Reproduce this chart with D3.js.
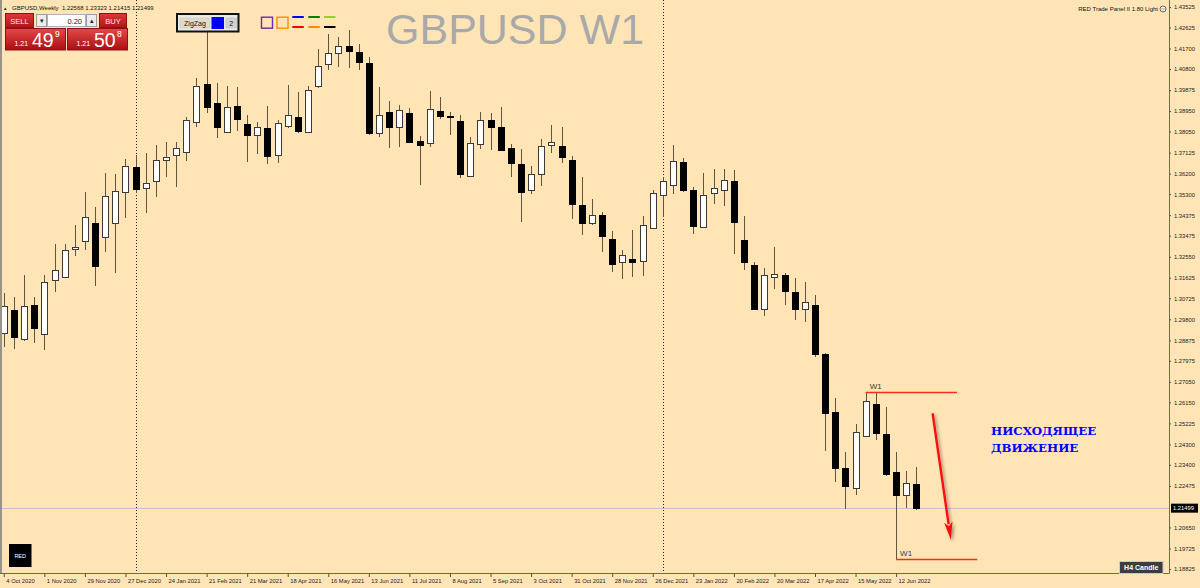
<!DOCTYPE html>
<html><head><meta charset="utf-8">
<script src="https://cdn.jsdelivr.net/npm/d3@7"></script>
<style>
html,body{margin:0;padding:0;background:#ffe4b5;}
svg{display:block;}
</style>
</head><body>
<svg id="chart" width="1200" height="588"></svg>
<script>
// ---------------- DATA ----------------
const symbolTitle = "GBPUSD W1";
const headerText = "GBPUSD,Weekly  1.22568 1.23323 1.21415 1.21499";
const firstWeek = "2020-10-04";          // first weekly bar (MT4 weeks start Sunday)
const futureWeeks = 6;                    // empty weeks to the right of the last bar

const opens  = [1.2918,1.3022,1.2892,1.3043,1.2917,1.3153,1.3167,1.3288,1.3323,1.3404,
                1.3342,1.3404,1.3541,1.3648,1.3557,1.3588,1.3678,1.3702,1.3714,1.3848,
                1.4013,1.3929,1.3802,1.3919,1.3837,1.3789,1.3822,1.3702,1.3828,1.3870,
                1.3804,1.4004,1.4101,1.4149,1.4182,1.4153,1.4105,1.3797,1.3890,1.3824,
                1.3885,1.3765,1.3753,1.3894,1.3873,1.3853,1.3611,1.3749,1.3856,1.3826,
                1.3733,1.3661,1.3548,1.3617,1.3746,1.3742,1.3680,1.3482,1.3404,1.3437,
                1.3331,1.3232,1.3246,1.3235,1.3381,1.3525,1.3572,1.3670,1.3547,1.3387,
                1.3534,1.3548,1.3586,1.3328,1.3219,1.3027,1.3164,1.3175,1.3099,1.3024,
                1.3043,1.2826,1.2571,1.2325,1.2238,1.2468,1.2608,1.2477,1.2307,1.2206,
                1.22568];
const highs  = [1.3095,1.3079,1.3173,1.3077,1.3173,1.3311,1.3311,1.3394,1.3539,1.3473,
                1.3622,1.3617,1.3683,1.3702,1.3711,1.3746,1.3760,1.3758,1.3869,1.4039,
                1.4244,1.4017,1.4005,1.4001,1.3878,1.3848,1.3919,1.3856,1.4010,1.3978,
                1.4007,1.4168,1.4234,1.4221,1.4251,1.4190,1.4131,1.4001,1.3941,1.3920,
                1.3907,1.3786,1.3985,1.3956,1.3892,1.3878,1.3780,1.3890,1.3885,1.3912,
                1.3750,1.3728,1.3655,1.3772,1.3834,1.3826,1.3698,1.3607,1.3510,1.3453,
                1.3368,1.3284,1.3371,1.3435,1.3548,1.3607,1.3747,1.3687,1.3563,1.3624,
                1.3642,1.3642,1.3636,1.3434,1.3233,1.3207,1.3296,1.3183,1.3163,1.3142,
                1.3087,1.2833,1.2633,1.2398,1.2520,1.2662,1.2655,1.2596,1.2398,1.2314,
                1.23323];
const lows   = [1.2860,1.2848,1.2886,1.2874,1.2845,1.3100,1.3161,1.3258,1.3284,1.3128,
                1.3274,1.3183,1.3426,1.3534,1.3446,1.3516,1.3607,1.3563,1.3677,1.3826,
                1.3885,1.3778,1.3797,1.3808,1.3670,1.3705,1.3662,1.3666,1.3819,1.3800,
                1.3802,1.3995,1.4076,1.4090,1.4083,1.4076,1.3790,1.3782,1.3731,1.3739,
                1.3756,1.3570,1.3736,1.3859,1.3789,1.3600,1.3605,1.3730,1.3724,1.3722,
                1.3607,1.3409,1.3531,1.3566,1.3710,1.3666,1.3419,1.3350,1.3394,1.3274,
                1.3189,1.3156,1.3167,1.3170,1.3380,1.3430,1.3530,1.3541,1.3353,1.3384,
                1.3487,1.3479,1.3267,1.3197,1.3021,1.2994,1.3114,1.3043,1.2977,1.2967,
                1.2815,1.2402,1.2266,1.2146,1.2208,1.2464,1.2449,1.2291,1.1926,1.2149,
                1.21415];
const closes = [1.3040,1.2902,1.3040,1.2940,1.3142,1.3195,1.3283,1.3296,1.3430,1.3215,
                1.3520,1.3544,1.3654,1.3551,1.3580,1.3679,1.3692,1.3733,1.3855,1.4005,
                1.3914,1.3826,1.3914,1.3859,1.3789,1.3824,1.3699,1.3841,1.3878,1.3808,
                1.3986,1.4093,1.4149,1.4182,1.4158,1.4110,1.3797,1.3876,1.3826,1.3900,
                1.3759,1.3745,1.3906,1.3872,1.3868,1.3617,1.3756,1.3856,1.3826,1.3724,
                1.3668,1.3541,1.3617,1.3742,1.3758,1.3692,1.3488,1.3404,1.3437,1.3347,
                1.3223,1.3261,1.3232,1.3396,1.3534,1.3588,1.3677,1.3548,1.3390,1.3525,
                1.3557,1.3591,1.3406,1.3232,1.3027,1.3175,1.3177,1.3106,1.3026,1.3054,
                1.2826,1.2567,1.2325,1.2248,1.2483,1.2621,1.2479,1.2300,1.2208,1.2262,
                1.21499];

const dateTicks = ["4 Oct 2020","1 Nov 2020","29 Nov 2020","27 Dec 2020","24 Jan 2021",
                   "21 Feb 2021","21 Mar 2021","18 Apr 2021","16 May 2021","13 Jun 2021",
                   "11 Jul 2021","8 Aug 2021","5 Sep 2021","3 Oct 2021","31 Oct 2021",
                   "28 Nov 2021","26 Dec 2021","23 Jan 2022","20 Feb 2022","20 Mar 2022",
                   "17 Apr 2022","15 May 2022","12 Jun 2022"];
const yearSeparators = ["3 Jan 2021","2 Jan 2022"];
const priceTicks = [1.43525,1.42625,1.41700,1.40800,1.39875,1.38950,1.38050,1.37125,
                    1.36200,1.35300,1.34375,1.33475,1.32550,1.31625,1.30725,1.29800,
                    1.28875,1.27975,1.27050,1.26150,1.25225,1.24300,1.23400,1.22475,
                    1.20650,1.19725,1.18825];
const lastPrice = 1.21499;

// W1 levels: [label, price, start week, end week]
const levels = [["W1",1.2662,"22 May 2022","24 Jul 2022"],
                ["W1",1.1926,"12 Jun 2022","7 Aug 2022"]];
// arrow (fractional week index, price)
const arrowFrom = [91.6, 1.2567];
const arrowTo   = [93.4, 1.2010];
const noteLines = ["НИСХОДЯЩЕЕ","ДВИЖЕНИЕ"];

// ---------------- SETUP ----------------
const svg = d3.select("#chart");
const W = 1200, H = 588;
const plotRight = 1169.5, plotBottom = 573.5;
const parse = d3.timeParse("%Y-%m-%d");
const fmt = d3.timeFormat("%-d %b %Y");
const nWeeks = opens.length + futureWeeks;
const weeks = d3.range(nWeeks).map(i => fmt(d3.timeWeek.offset(parse(firstWeek), i)));

const x = d3.scalePoint().domain(weeks).range([3.8, 3.8 + (nWeeks - 1) * 10.14]);
const xi = d3.scaleLinear().domain([0, nWeeks - 1]).range(x.range());
const y = d3.scaleLinear().domain([1.18825, 1.43525]).range([569, 7]);

const defs = svg.append("defs");
const gRed = defs.append("linearGradient").attr("id","gRed").attr("x1",0).attr("y1",0).attr("x2",0).attr("y2",1);
gRed.append("stop").attr("offset","0%").attr("stop-color","#e44848");
gRed.append("stop").attr("offset","100%").attr("stop-color","#a90f12");
const gRed2 = defs.append("linearGradient").attr("id","gRed2").attr("x1",0).attr("y1",0).attr("x2",0).attr("y2",1);
gRed2.append("stop").attr("offset","0%").attr("stop-color","#d83a3c");
gRed2.append("stop").attr("offset","100%").attr("stop-color","#b41418");
const sh = defs.append("filter").attr("id","shadow").attr("x","-50%").attr("y","-20%").attr("width","200%").attr("height","140%");
sh.append("feDropShadow").attr("dx",2).attr("dy",2).attr("stdDeviation",1.6)
  .attr("flood-color","#000").attr("flood-opacity",0.35);

svg.append("rect").attr("width",W).attr("height",H).attr("fill","#ffe4b5");

const FONT = "'Liberation Sans', Arial, sans-serif";

// title
svg.append("text").attr("x",386).attr("y",44).text(symbolTitle)
  .attr("font-family",FONT).attr("font-size",43).attr("fill","#a9a9a9");

// year separators (dotted)
svg.append("g").selectAll("line").data(yearSeparators).join("line")
  .attr("x1", d => Math.round(x(d)) + 0.5).attr("x2", d => Math.round(x(d)) + 0.5)
  .attr("y1", 0).attr("y2", plotBottom)
  .attr("stroke","#222").attr("stroke-width",1).attr("stroke-dasharray","1,2");

// current price line
svg.append("line").attr("x1",0).attr("x2",plotRight)
  .attr("y1", Math.round(y(lastPrice)) + 0.5).attr("y2", Math.round(y(lastPrice)) + 0.5)
  .attr("stroke","#c4c4c4").attr("stroke-width",1);

// ---------------- CANDLES ----------------
const candles = opens.map((o, i) => ({date: weeks[i], o, h: highs[i], l: lows[i], c: closes[i]}));
const gC = svg.append("g").attr("shape-rendering","crispEdges");
gC.selectAll("line.wick").data(candles).join("line").attr("class","wick")
  .attr("x1", d => Math.round(x(d.date)) + 0.5).attr("x2", d => Math.round(x(d.date)) + 0.5)
  .attr("y1", d => y(d.h)).attr("y2", d => y(d.l))
  .attr("stroke","#5e5540").attr("stroke-width",1);
gC.selectAll("rect.body").data(candles).join("rect").attr("class","body")
  .attr("x", d => Math.round(x(d.date)) - 2.5)
  .attr("width", 6)
  .attr("y", d => Math.round(y(Math.max(d.o, d.c))) + 0.5)
  .attr("height", d => Math.max(1, Math.round(y(Math.min(d.o, d.c))) - Math.round(y(Math.max(d.o, d.c)))))
  .attr("fill", d => d.c >= d.o ? "#ffffff" : "#000000")
  .attr("stroke", d => d.c >= d.o ? "#3a3a3a" : "#000000").attr("stroke-width",1);

// ---------------- W1 LEVELS ----------------
const gL = svg.append("g");
levels.forEach(([lab, p, a, b]) => {
  const yy = Math.round(y(p)) + 0.5;
  gL.append("line").attr("x1", x(a)).attr("x2", x(b)).attr("y1", yy).attr("y2", yy)
    .attr("stroke","#ff2a1a").attr("stroke-width",1.6);
  gL.append("text").attr("x", x(a) + 4).attr("y", yy - 4).text(lab)
    .attr("font-family",FONT).attr("font-size",8).attr("fill","#3a3a3a");
});

// ---------------- ARROW ----------------
{
  const x1 = xi(arrowFrom[0]), y1 = y(arrowFrom[1]);
  const x2 = xi(arrowTo[0]), y2 = y(arrowTo[1]);
  const dx = x2 - x1, dy = y2 - y1, len = Math.hypot(dx, dy);
  const ux = dx/len, uy = dy/len, px = -uy, py = ux;
  const headL = 18, headW = 4.2;
  const bx = x2 - ux*headL, by = y2 - uy*headL;
  const g = svg.append("g").attr("filter","url(#shadow)");
  g.append("line").attr("x1",x1).attr("y1",y1).attr("x2",bx + ux*2).attr("y2",by + uy*2)
    .attr("stroke","#ff1010").attr("stroke-width",2.4);
  g.append("polygon").attr("points", [[x2,y2],[bx+px*headW,by+py*headW],[bx+ux*4,by+uy*4],[bx-px*headW,by-py*headW]].map(p=>p.join(",")).join(" "))
    .attr("fill","#ff1010");
}

// note text
svg.append("g").selectAll("text").data(noteLines).join("text")
  .attr("x",991).attr("y",(d,i) => 435 + i*16.7).text(d => d)
  .attr("font-family","'DejaVu Serif', serif").attr("font-weight","bold")
  .attr("font-size",11.8).attr("fill","#0000ff");

// ---------------- FRAME & AXES ----------------
svg.append("line").attr("x1",1).attr("x2",1).attr("y1",0).attr("y2",plotBottom)
  .attr("stroke","#9a9486").attr("stroke-width",2);
svg.append("line").attr("x1",0).attr("x2",plotRight).attr("y1",plotBottom).attr("y2",plotBottom)
  .attr("stroke","#6d6a62").attr("stroke-width",1);
svg.append("line").attr("x1",plotRight).attr("x2",plotRight).attr("y1",0).attr("y2",plotBottom)
  .attr("stroke","#6d6a62").attr("stroke-width",1);

const xAxis = d3.axisBottom(x).tickValues(dateTicks).tickSize(4).tickPadding(2);
const gx = svg.append("g").attr("transform",`translate(0,${plotBottom - 0.5})`).call(xAxis);
gx.select(".domain").remove();
gx.selectAll(".tick line").attr("stroke","#55524a");
gx.selectAll(".tick text").attr("text-anchor","start").attr("x",2).attr("dy","0.75em")
  .attr("fill","#222").attr("font-family",FONT).attr("font-size",5.8);

const yAxis = d3.axisRight(y).tickValues(priceTicks).tickFormat(d3.format(".5f")).tickSize(2).tickPadding(3);
const gy = svg.append("g").attr("transform",`translate(${plotRight - 0.5},0)`).call(yAxis);
gy.select(".domain").remove();
gy.selectAll(".tick line").attr("stroke","#55524a");
gy.selectAll(".tick text").attr("fill","#222").attr("font-family",FONT).attr("font-size",5.8);

// current price label
{
  const yy = y(lastPrice);
  svg.append("rect").attr("x",1171).attr("y",yy - 4.5).attr("width",27).attr("height",9).attr("fill","#000");
  svg.append("text").attr("x",1173).attr("y",yy + 2.2).text(d3.format(".5f")(lastPrice))
    .attr("font-family",FONT).attr("font-size",5.8).attr("fill","#fff");
}

// ---------------- HEADER / PANELS ----------------
svg.append("text").attr("x",3).attr("y",9.5).text("▲").attr("font-size",4.5).attr("fill","#222").attr("font-family",FONT);
svg.append("text").attr("x",12).attr("y",9.5).text(headerText).attr("xml:space","preserve")
  .attr("font-family",FONT).attr("font-size",6).attr("fill","#111");

svg.append("text").attr("x",1158).attr("y",11).attr("text-anchor","end").text("RED Trade Panel II 1.80 Light")
  .attr("font-family",FONT).attr("font-size",6).attr("fill","#111");
svg.append("circle").attr("cx",1163).attr("cy",9).attr("r",3).attr("fill","#fff").attr("stroke","#444").attr("stroke-width",0.8);
svg.append("text").attr("x",1163).attr("y",10.8).attr("text-anchor","middle").text("☺").attr("font-size",5.5).attr("fill","#333");

// trade panel
const tp = svg.append("g").attr("font-family",FONT);
tp.append("rect").attr("x",5.5).attr("y",13.5).attr("width",28).attr("height",14).attr("fill","url(#gRed2)").attr("stroke","#8e1215");
tp.append("text").attr("x",19.5).attr("y",23.5).attr("text-anchor","middle").text("SELL").attr("font-size",7.5).attr("fill","#ffe2e2");
tp.append("rect").attr("x",36.5).attr("y",14.5).attr("width",10).attr("height",12).attr("fill","#ececec").attr("stroke","#9c9c9c");
tp.append("text").attr("x",41.5).attr("y",22.5).attr("text-anchor","middle").text("▾").attr("font-size",7).attr("fill","#222");
tp.append("rect").attr("x",47.5).attr("y",14.5).attr("width",38).attr("height",12).attr("fill","#fff").attr("stroke","#b0b0b0");
tp.append("text").attr("x",82).attr("y",23.5).attr("text-anchor","end").text("0.20").attr("font-size",7.5).attr("fill","#222");
tp.append("rect").attr("x",86.5).attr("y",14.5).attr("width",10).attr("height",12).attr("fill","#ececec").attr("stroke","#9c9c9c");
tp.append("text").attr("x",91.5).attr("y",22.5).attr("text-anchor","middle").text("▴").attr("font-size",7).attr("fill","#222");
tp.append("rect").attr("x",99.5).attr("y",13.5).attr("width",27).attr("height",14).attr("fill","url(#gRed2)").attr("stroke","#8e1215");
tp.append("text").attr("x",113).attr("y",23.5).attr("text-anchor","middle").text("BUY").attr("font-size",7.5).attr("fill","#ffe2e2");

[[5.5,"49","9"],[67.5,"50","8"]].forEach(([bx, big, sup]) => {
  tp.append("rect").attr("x",bx).attr("y",28.5).attr("width",60).attr("height",21.5).attr("fill","url(#gRed)").attr("stroke","#8e1215");
  tp.append("text").attr("x",bx + 9).attr("y",45.5).text("1.21").attr("font-size",7).attr("fill","#fff");
  tp.append("text").attr("x",bx + 26.5).attr("y",46.8).text(big).attr("font-size",19.5).attr("fill","#fff");
  tp.append("text").attr("x",bx + 49.5).attr("y",36.8).text(sup).attr("font-size",8.5).attr("fill","#fff");
});

// ZigZag box
const zz = svg.append("g").attr("font-family",FONT);
zz.append("rect").attr("x",177).attr("y",14).attr("width",61.5).attr("height",17.5).attr("fill","#ebe9e3").attr("stroke","#111").attr("stroke-width",2);
zz.append("rect").attr("x",180).attr("y",18).attr("width",30).attr("height",10).attr("fill","#dedbd2").attr("stroke","#c8c5bc").attr("stroke-width",0.5);
zz.append("text").attr("x",195).attr("y",25.7).attr("text-anchor","middle").text("ZigZag").attr("font-size",7).attr("fill","#111");
zz.append("rect").attr("x",211.5).attr("y",17).attr("width",12.5).attr("height",12).attr("fill","#0000ff");
zz.append("text").attr("x",217.7).attr("y",25.7).attr("text-anchor","middle").text("C").attr("font-size",6.5).attr("fill","#000066");
zz.append("rect").attr("x",226).attr("y",18).attr("width",10.5).attr("height",10).attr("fill","#d2d2d2").attr("stroke","#bbb").attr("stroke-width",0.5);
zz.append("text").attr("x",231.2).attr("y",25.7).attr("text-anchor","middle").text("2").attr("font-size",7).attr("fill","#111");

// colour icons
const ic = svg.append("g");
ic.append("rect").attr("x",261.5).attr("y",17.2).attr("width",11).attr("height",11).attr("fill","none").attr("stroke","#6a2fa8").attr("stroke-width",1.4);
ic.append("rect").attr("x",277).attr("y",17.2).attr("width",11).attr("height",11).attr("fill","none").attr("stroke","#ff8c00").attr("stroke-width",1.4);
[[292.3,17,"#0000ff"],[292.3,27,"#ff0000"],[308.3,17,"#008000"],[308.3,27,"#ff8c00"],[324,17,"#9acd32"],[324,27,"#000000"]]
  .forEach(([lx,ly,c]) => ic.append("line").attr("x1",lx).attr("x2",lx+11.5).attr("y1",ly).attr("y2",ly).attr("stroke",c).attr("stroke-width",2));

// RED logo bottom-left
svg.append("rect").attr("x",9).attr("y",544).attr("width",22.5).attr("height",23).attr("fill","#000");
svg.append("text").attr("x",20.2).attr("y",558).attr("text-anchor","middle").text("RED")
  .attr("font-family",FONT).attr("font-size",5.5).attr("fill","#fff");

// H4 Candle button
svg.append("rect").attr("x",1119.5).attr("y",561.5).attr("width",43.5).attr("height",12).attr("fill","#3d3d3d").attr("stroke","#c8c8c8");
svg.append("text").attr("x",1141.2).attr("y",570.2).attr("text-anchor","middle").text("H4 Candle")
  .attr("font-family",FONT).attr("font-weight","bold").attr("font-size",7).attr("fill","#fff");
</script>
</body></html>
